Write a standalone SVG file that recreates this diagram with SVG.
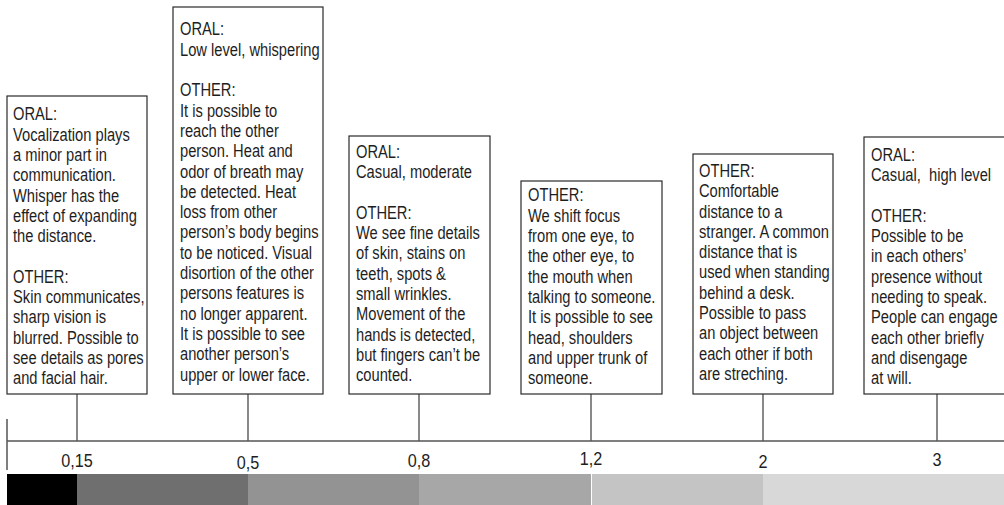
<svg xmlns="http://www.w3.org/2000/svg" width="1004" height="505" viewBox="0 0 1004 505">
<style>
.box{fill:#fff;stroke:#2a2a2a;stroke-width:1.2}
.t{font-family:"Liberation Sans",Arial,sans-serif;font-size:17.5px;fill:#1e1e1e}
.lbl{font-family:"Liberation Sans",Arial,sans-serif;font-size:18px;fill:#1e1e1e;text-anchor:middle}
.stem{stroke:#3a3a3a;stroke-width:1.2;fill:none}
.axis{stroke:#555;stroke-width:1.5;fill:none}
</style>
<rect width="1004" height="505" fill="#fff"/>
<g id="connectors">
<line class="stem" x1="77" y1="394" x2="77" y2="441"/>
<line class="stem" x1="248" y1="394" x2="248" y2="441"/>
<line class="stem" x1="419" y1="394" x2="419" y2="441"/>
<line class="stem" x1="591" y1="394" x2="591" y2="441"/>
<line class="stem" x1="763" y1="394" x2="763" y2="441"/>
<line class="stem" x1="937" y1="394" x2="937" y2="441"/>
</g>
<g id="axis">
<line class="axis" x1="7" y1="441" x2="1004" y2="441"/>
<line class="axis" x1="7" y1="419" x2="7" y2="470" stroke="#222"/>
<text class="lbl" transform="translate(77 467) scale(0.9 1)">0,15</text>
<text class="lbl" transform="translate(248 469) scale(0.9 1)">0,5</text>
<text class="lbl" transform="translate(419 467) scale(0.9 1)">0,8</text>
<text class="lbl" transform="translate(591 465) scale(0.9 1)">1,2</text>
<text class="lbl" transform="translate(763 468) scale(0.9 1)">2</text>
<text class="lbl" transform="translate(937 466) scale(0.9 1)">3</text>
</g>
<g id="scale">
<rect x="7" y="474" width="70" height="31" fill="#000"/>
<rect x="77" y="474" width="171" height="31" fill="#6f6f6f"/>
<rect x="248" y="474" width="171" height="31" fill="#939393"/>
<rect x="419" y="474" width="172" height="31" fill="#a7a7a7"/>
<rect x="592" y="474" width="171" height="31" fill="#c4c4c4"/>
<rect x="763" y="474" width="241" height="31" fill="#d8d8d8"/>
</g>
<g id="node-015">
<rect class="box" x="7" y="96" width="140" height="298"/>
<text class="t" transform="translate(13 0) scale(0.84 1)"><tspan x="0" y="120.5">ORAL:</tspan><tspan x="0" y="140.8">Vocalization plays</tspan><tspan x="0" y="161.1">a minor part in</tspan><tspan x="0" y="181.4">communication.</tspan><tspan x="0" y="201.7">Whisper has the</tspan><tspan x="0" y="222">effect of expanding</tspan><tspan x="0" y="242.3">the distance.</tspan><tspan x="0" y="282.9">OTHER:</tspan><tspan x="0" y="303.2">Skin communicates,</tspan><tspan x="0" y="323.5">sharp vision is</tspan><tspan x="0" y="343.8">blurred. Possible to</tspan><tspan x="0" y="364.1">see details as pores</tspan><tspan x="0" y="384.4">and facial hair.</tspan></text>
</g>
<g id="node-05">
<rect class="box" x="173" y="7" width="150" height="387"/>
<text class="t" transform="translate(180 0) scale(0.84 1)"><tspan x="0" y="35.5">ORAL:</tspan><tspan x="0" y="55.8">Low level, whispering</tspan><tspan x="0" y="96.4">OTHER:</tspan><tspan x="0" y="116.7">It is possible to</tspan><tspan x="0" y="137">reach the other</tspan><tspan x="0" y="157.3">person. Heat and</tspan><tspan x="0" y="177.6">odor of breath may</tspan><tspan x="0" y="197.9">be detected. Heat</tspan><tspan x="0" y="218.2">loss from other</tspan><tspan x="0" y="238.5">person’s body begins</tspan><tspan x="0" y="258.8">to be noticed. Visual</tspan><tspan x="0" y="279.1">disortion of the other</tspan><tspan x="0" y="299.4">persons features is</tspan><tspan x="0" y="319.7">no longer apparent.</tspan><tspan x="0" y="340">It is possible to see</tspan><tspan x="0" y="360.3">another person’s</tspan><tspan x="0" y="380.6">upper or lower face.</tspan></text>
</g>
<g id="node-08">
<rect class="box" x="349" y="136" width="141" height="258"/>
<text class="t" transform="translate(356 0) scale(0.84 1)"><tspan x="0" y="158">ORAL:</tspan><tspan x="0" y="178.3">Casual, moderate</tspan><tspan x="0" y="218.9">OTHER:</tspan><tspan x="0" y="239.2">We see fine details</tspan><tspan x="0" y="259.5">of skin, stains on</tspan><tspan x="0" y="279.8">teeth, spots &amp;</tspan><tspan x="0" y="300.1">small wrinkles.</tspan><tspan x="0" y="320.4">Movement of the</tspan><tspan x="0" y="340.7">hands is detected,</tspan><tspan x="0" y="361">but fingers can’t be</tspan><tspan x="0" y="381.3">counted.</tspan></text>
</g>
<g id="node-12">
<rect class="box" x="521" y="181" width="141" height="213"/>
<text class="t" transform="translate(528 0) scale(0.84 1)"><tspan x="0" y="201.5">OTHER:</tspan><tspan x="0" y="221.8">We shift focus</tspan><tspan x="0" y="242.1">from one eye, to</tspan><tspan x="0" y="262.4">the other eye, to</tspan><tspan x="0" y="282.7">the mouth when</tspan><tspan x="0" y="303">talking to someone.</tspan><tspan x="0" y="323.3">It is possible to see</tspan><tspan x="0" y="343.6">head, shoulders</tspan><tspan x="0" y="363.9">and upper trunk of</tspan><tspan x="0" y="384.2">someone.</tspan></text>
</g>
<g id="node-2">
<rect class="box" x="693" y="154" width="140" height="240"/>
<text class="t" transform="translate(699 0) scale(0.84 1)"><tspan x="0" y="177">OTHER:</tspan><tspan x="0" y="197.3">Comfortable</tspan><tspan x="0" y="217.6">distance to a</tspan><tspan x="0" y="237.9">stranger. A common</tspan><tspan x="0" y="258.2">distance that is</tspan><tspan x="0" y="278.5">used when standing</tspan><tspan x="0" y="298.8">behind a desk.</tspan><tspan x="0" y="319.1">Possible to pass</tspan><tspan x="0" y="339.4">an object between</tspan><tspan x="0" y="359.7">each other if both</tspan><tspan x="0" y="380">are streching.</tspan></text>
</g>
<g id="node-3">
<rect class="box" x="864" y="137" width="150" height="257"/>
<text class="t" transform="translate(871 0) scale(0.84 1)"><tspan x="0" y="161">ORAL:</tspan><tspan x="0" y="181.3" xml:space="preserve">Casual,  high level</tspan><tspan x="0" y="221.9">OTHER:</tspan><tspan x="0" y="242.2">Possible to be</tspan><tspan x="0" y="262.5">in each others’</tspan><tspan x="0" y="282.8">presence without</tspan><tspan x="0" y="303.1">needing to speak.</tspan><tspan x="0" y="323.4">People can engage</tspan><tspan x="0" y="343.7">each other briefly</tspan><tspan x="0" y="364">and disengage</tspan><tspan x="0" y="384.3">at will.</tspan></text>
</g>
</svg>
